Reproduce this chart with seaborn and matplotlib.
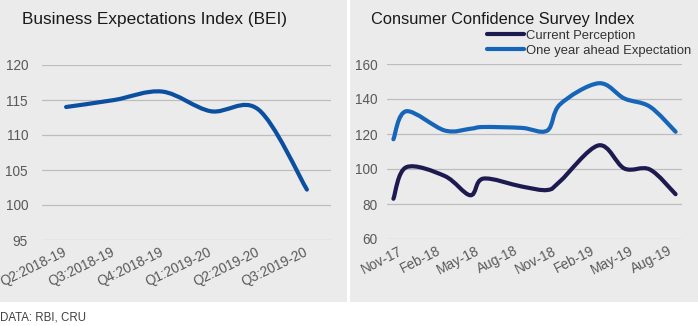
import numpy as np
import pandas as pd
import matplotlib
matplotlib.use("Agg")
import matplotlib.pyplot as plt
import seaborn as sns
from matplotlib.path import Path
from matplotlib.patches import PathPatch, Rectangle
from matplotlib.lines import Line2D
from matplotlib.transforms import ScaledTranslation

# ---------------- data ----------------
bei_quarters = ["Q2:2018-19", "Q3:2018-19", "Q4:2018-19",
                "Q1:2019-20", "Q2:2019-20", "Q3:2019-20"]
bei_values = [114.0, 115.0, 116.2, 113.4, 113.6, 102.2]
bei_yticks = [95, 100, 105, 110, 115, 120]

ccs_months = ["Nov-17", "Dec-17", "Mar-18", "May-18", "Jun-18", "Sep-18",
              "Nov-18", "Dec-18", "Mar-19", "May-19", "Jul-19", "Sep-19"]
current_perception = [83.0, 101.0, 96.0, 85.0, 94.5, 90.0,
                      88.0, 93.0, 113.5, 100.3, 99.7, 85.6]
one_year_ahead = [117.0, 133.0, 122.0, 123.0, 124.0, 123.5,
                  122.0, 137.0, 149.0, 140.3, 135.6, 121.3]
ccs_tick_labels = ["Nov-17", "Feb-18", "May-18", "Aug-18",
                   "Nov-18", "Feb-19", "May-19", "Aug-19"]
ccs_yticks = [60, 80, 100, 120, 140, 160]

# ---------------- style ----------------
sns.set_style("white")
plt.rcParams['font.family'] = ['Liberation Sans', 'DejaVu Sans']

W, H = 698, 326
fig = plt.figure(figsize=(W / 100, H / 100), dpi=100)
fig.patch.set_facecolor("white")

panel_col = "#ebebeb"
fig.patches.append(Rectangle((0, (H - 302) / H), 347 / W, 302 / H,
                             transform=fig.transFigure, facecolor=panel_col,
                             edgecolor="none", zorder=-10))
fig.patches.append(Rectangle((350 / W, (H - 302) / H), (W - 350) / W, 302 / H,
                             transform=fig.transFigure, facecolor=panel_col,
                             edgecolor="none", zorder=-10))

tick_col = "#595959"
grid_col = "#bdbdbd"


def smooth_path(x, y):
    P = np.column_stack([x, y]).astype(float)
    n = len(P)
    verts = [P[0]]
    codes = [Path.MOVETO]
    for i in range(n - 1):
        p0 = P[i - 1] if i > 0 else P[i]
        p1 = P[i]
        p2 = P[i + 1]
        p3 = P[i + 2] if i + 2 < n else P[i + 1]
        c1 = p1 + (p2 - p0) / 6.0
        c2 = p2 - (p3 - p1) / 6.0
        verts += [c1, c2, p2]
        codes += [Path.CURVE4] * 3
    return Path(verts, codes)


def smooth_last_line(ax, color, lw=3.0):
    line = ax.lines[-1]
    xy = line.get_xydata()
    patch = PathPatch(smooth_path(xy[:, 0], xy[:, 1]), facecolor="none",
                      edgecolor=color, lw=lw, capstyle="round",
                      joinstyle="round", transform=ax.transData, zorder=3)
    ax.add_patch(patch)
    line.set_visible(False)


def style_axes(ax):
    ax.set_facecolor("none")
    ax.patch.set_alpha(0)
    for s in ax.spines.values():
        s.set_visible(False)
    ax.yaxis.grid(True, color=grid_col, lw=0.9)
    ax.xaxis.grid(False)
    ax.set_axisbelow(True)
    ax.tick_params(axis="both", length=0, colors=tick_col, labelsize=9.8)
    ax.set_xlabel("")
    ax.set_ylabel("")


# ---------------- left: BEI ----------------
axL = fig.add_axes([42 / W, (H - 240) / H, 289 / W, 175 / H])
bei_df = pd.DataFrame({"quarter": bei_quarters, "value": bei_values})
sns.lineplot(data=bei_df, x="quarter", y="value", ax=axL, sort=False,
             color="#0b4fa0", lw=3)
smooth_last_line(axL, "#0b4fa0")
axL.set_xlim(-0.5, len(bei_quarters) - 0.5)
axL.set_ylim(95, 120)
axL.set_yticks(bei_yticks)
style_axes(axL)
axL.tick_params(axis="y", pad=10)
axL.set_xticks(range(len(bei_quarters)))
axL.set_xticklabels(bei_quarters, rotation=26, ha="right",
                    rotation_mode="anchor", va="center")
axL.tick_params(axis="x", pad=8)

fig.text(22 / W, 1 - 19.5 / H, "Business Expectations Index (BEI)",
         fontsize=12.4, color="#1a1a1a", va="center", ha="left")

# ---------------- right: CCS ----------------
axR = fig.add_axes([387 / W, (H - 239) / H, 295 / W, 175 / H])
dates = pd.to_datetime(ccs_months, format="%b-%y")
start = dates[0]
month_idx = (dates.year - start.year) * 12 + (dates.month - start.month)
tick_dates = pd.to_datetime(ccs_tick_labels, format="%b-%y")
tick_idx = (tick_dates.year - start.year) * 12 + (tick_dates.month - start.month)

ccs_df = pd.DataFrame({"m": month_idx, "cur": current_perception,
                       "exp": one_year_ahead})
col_cur = "#1d1a50"
col_exp = "#1565b8"
sns.lineplot(data=ccs_df, x="m", y="cur", ax=axR, color=col_cur, lw=3)
smooth_last_line(axR, col_cur)
sns.lineplot(data=ccs_df, x="m", y="exp", ax=axR, color=col_exp, lw=3)
smooth_last_line(axR, col_exp)
axR.set_xlim(month_idx[0] - 0.5, month_idx[-1] + 0.5)
axR.set_ylim(60, 160)
axR.set_yticks(ccs_yticks)
style_axes(axR)
axR.tick_params(axis="y", pad=7)
axR.set_xticks(list(tick_idx))
axR.set_xticklabels(ccs_tick_labels, rotation=27, ha="right",
                    rotation_mode="anchor", va="center")
axR.tick_params(axis="x", pad=8)
for lab in axR.get_xticklabels():
    lab.set_transform(lab.get_transform() +
                      ScaledTranslation(8 / 100, 0, fig.dpi_scale_trans))

handles = [Line2D([], [], color=col_cur, lw=3),
           Line2D([], [], color=col_exp, lw=3)]
leg = axR.legend(handles, ["Current Perception", "One year ahead Expectation"],
                 loc="upper left", bbox_to_anchor=(487 / W, 1 - 29.5 / H),
                 bbox_transform=fig.transFigure, frameon=False,
                 fontsize=9.4, handlelength=2.8, handletextpad=0.2,
                 labelspacing=0.22, borderpad=0, borderaxespad=0)
for t in leg.get_texts():
    t.set_color("#333333")

fig.text(371 / W, 1 - 19.5 / H, "Consumer Confidence Survey Index",
         fontsize=11.8, color="#1a1a1a", va="center", ha="left")

fig.text(0 / W, 1 - 317 / H, "DATA: RBI, CRU", fontsize=8.3,
         color="#404040", va="center", ha="left")

fig.savefig("out.png", dpi=100, facecolor="white")
